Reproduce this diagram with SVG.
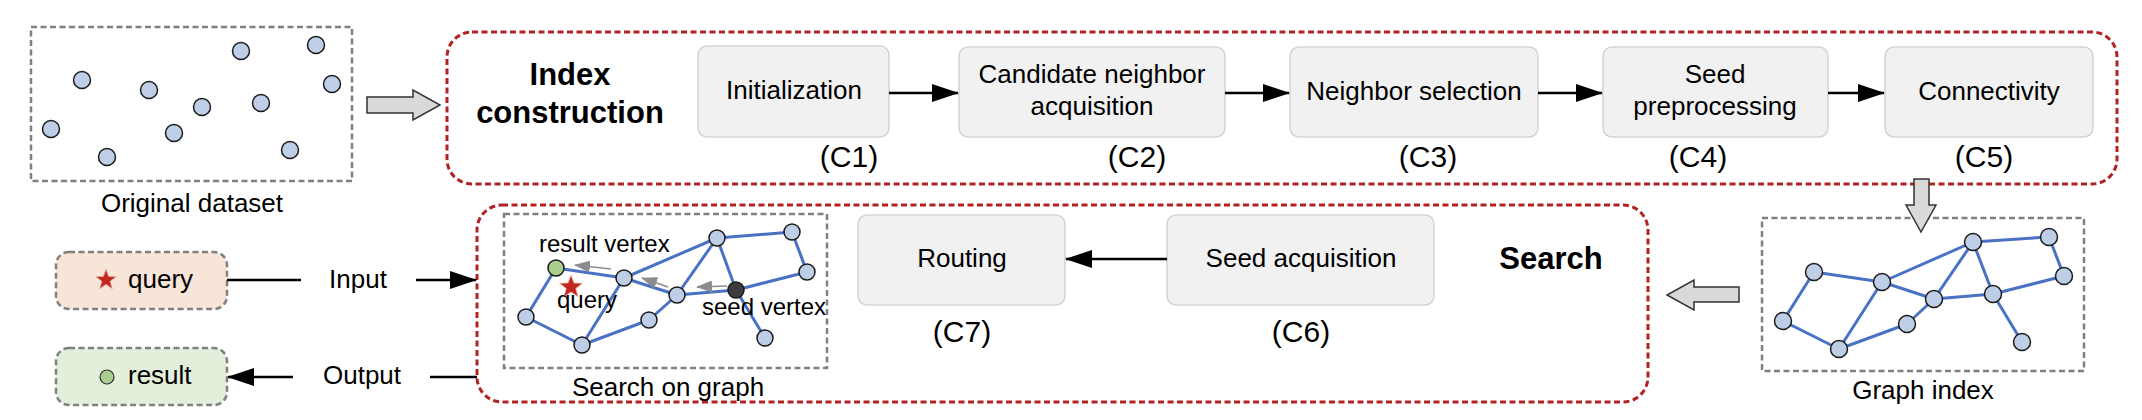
<svg xmlns="http://www.w3.org/2000/svg" xmlns:xlink="http://www.w3.org/1999/xlink" width="2142" height="420" viewBox="0 0 2142 420">
<style>
text{font-family:"Liberation Sans",Arial,sans-serif;fill:#000}
.t{font-size:26px}
.tb{font-size:31px;font-weight:bold}
.lbl{font-size:30px}
.sm{font-size:24px}
.step{fill:#f1f1f1;stroke:#d4d4d4;stroke-width:1.5}
.red{fill:none;stroke:#b22222;stroke-width:3;stroke-dasharray:6,3.5}
.gbox{fill:none;stroke:#808080;stroke-width:2.5;stroke-dasharray:6,3.5}
.nd{fill:#bdcee6;stroke:#1a1a1a;stroke-width:1.5}
.ed{stroke:#4a72c4;stroke-width:3;fill:none}
.blk{fill:#d9d9d9;stroke:#333;stroke-width:1.5}
.arr{stroke:#000;stroke-width:2.5;fill:none}
.garr{stroke:#8c8c8c;stroke-width:1.5;fill:none}
</style>
<defs>
<marker id="ah" markerUnits="userSpaceOnUse" markerWidth="27" markerHeight="18" refX="26" refY="9" orient="auto"><path d="M0,0 L27,9 L0,18 z" fill="#000"/></marker>
<marker id="gh" markerUnits="userSpaceOnUse" markerWidth="16" markerHeight="12" refX="15" refY="6" orient="auto"><path d="M0,0 L16,6 L0,12 z" fill="#8c8c8c"/></marker>
<polygon id="star" points="0,-12 2.94,-4.05 11.41,-3.71 4.76,1.55 7.05,9.71 0,5 -7.05,9.71 -4.76,1.55 -11.41,-3.71 -2.94,-4.05" fill="#c0281e" stroke="#e8b0a8" stroke-width="0.8"/>
</defs>

<g id="original-dataset">
<rect class="gbox" x="31" y="27" width="321" height="154"/>
<circle class="nd" cx="51" cy="129" r="8.5"/>
<circle class="nd" cx="82" cy="80" r="8.5"/>
<circle class="nd" cx="107" cy="157" r="8.5"/>
<circle class="nd" cx="149" cy="90" r="8.5"/>
<circle class="nd" cx="174" cy="133" r="8.5"/>
<circle class="nd" cx="202" cy="107" r="8.5"/>
<circle class="nd" cx="241" cy="51" r="8.5"/>
<circle class="nd" cx="261" cy="103" r="8.5"/>
<circle class="nd" cx="290" cy="150" r="8.5"/>
<circle class="nd" cx="316" cy="45" r="8.5"/>
<circle class="nd" cx="332" cy="84" r="8.5"/>
<text class="t" x="192" y="212" text-anchor="middle">Original dataset</text>
</g>

<g id="index-construction">
<rect class="red" x="447" y="32" width="1670" height="152" rx="25"/>
<text class="tb" x="570" y="85" text-anchor="middle">Index</text>
<text class="tb" x="570" y="123" text-anchor="middle">construction</text>
</g>

<g id="c1">
<rect class="step" x="698" y="46" width="191" height="91" rx="9"/>
<text class="t" x="794" y="99" text-anchor="middle">Initialization</text>
<text class="lbl" x="849" y="167" text-anchor="middle">(C1)</text>
</g>
<g id="c2">
<rect class="step" x="959" y="47" width="266" height="90" rx="9"/>
<text class="t" x="1092" y="83" text-anchor="middle">Candidate neighbor</text>
<text class="t" x="1092" y="115" text-anchor="middle">acquisition</text>
<text class="lbl" x="1137" y="167" text-anchor="middle">(C2)</text>
</g>
<g id="c3">
<rect class="step" x="1290" y="47" width="248" height="90" rx="9"/>
<text class="t" x="1414" y="100" text-anchor="middle">Neighbor selection</text>
<text class="lbl" x="1428" y="167" text-anchor="middle">(C3)</text>
</g>
<g id="c4">
<rect class="step" x="1603" y="47" width="225" height="90" rx="9"/>
<text class="t" x="1715" y="83" text-anchor="middle">Seed</text>
<text class="t" x="1715" y="115" text-anchor="middle">preprocessing</text>
<text class="lbl" x="1698" y="167" text-anchor="middle">(C4)</text>
</g>
<g id="c5">
<rect class="step" x="1885" y="47" width="208" height="90" rx="9"/>
<text class="t" x="1989" y="100" text-anchor="middle">Connectivity</text>
<text class="lbl" x="1984" y="167" text-anchor="middle">(C5)</text>
</g>

<g id="graph-index">
<rect class="gbox" x="1762" y="218" width="322" height="153"/>
<g>
<line class="ed" x1="1814" y1="272" x2="1882" y2="282"/>
<line class="ed" x1="1882" y1="282" x2="1973" y2="242"/>
<line class="ed" x1="1973" y1="242" x2="2049" y2="237"/>
<line class="ed" x1="2049" y1="237" x2="2064" y2="276"/>
<line class="ed" x1="2064" y1="276" x2="1993" y2="294"/>
<line class="ed" x1="1993" y1="294" x2="1973" y2="242"/>
<line class="ed" x1="1993" y1="294" x2="1934" y2="299"/>
<line class="ed" x1="1934" y1="299" x2="1973" y2="242"/>
<line class="ed" x1="1934" y1="299" x2="1882" y2="282"/>
<line class="ed" x1="1934" y1="299" x2="1907" y2="324"/>
<line class="ed" x1="1907" y1="324" x2="1839" y2="349"/>
<line class="ed" x1="1839" y1="349" x2="1882" y2="282"/>
<line class="ed" x1="1839" y1="349" x2="1783" y2="321"/>
<line class="ed" x1="1783" y1="321" x2="1814" y2="272"/>
<line class="ed" x1="1993" y1="294" x2="2022" y2="342"/>
</g>
<circle class="nd" cx="1814" cy="272" r="8.5"/>
<circle class="nd" cx="1882" cy="282" r="8.5"/>
<circle class="nd" cx="1973" cy="242" r="8.5"/>
<circle class="nd" cx="2049" cy="237" r="8.5"/>
<circle class="nd" cx="2064" cy="276" r="8.5"/>
<circle class="nd" cx="1993" cy="294" r="8.5"/>
<circle class="nd" cx="1934" cy="299" r="8.5"/>
<circle class="nd" cx="1907" cy="324" r="8.5"/>
<circle class="nd" cx="1839" cy="349" r="8.5"/>
<circle class="nd" cx="1783" cy="321" r="8.5"/>
<circle class="nd" cx="2022" cy="342" r="8.5"/>
<text class="t" x="1923" y="399" text-anchor="middle">Graph index</text>
</g>

<g id="search">
<rect class="red" x="477" y="205" width="1171" height="197" rx="25"/>
<text class="tb" x="1551" y="269" text-anchor="middle">Search</text>
</g>

<g id="search-on-graph">
<rect class="gbox" x="504" y="214" width="323" height="154"/>
<g>
<line class="ed" x1="556" y1="268" x2="624" y2="278"/>
<line class="ed" x1="624" y1="278" x2="717" y2="238"/>
<line class="ed" x1="717" y1="238" x2="792" y2="232"/>
<line class="ed" x1="792" y1="232" x2="807" y2="272"/>
<line class="ed" x1="807" y1="272" x2="736" y2="290"/>
<line class="ed" x1="736" y1="290" x2="717" y2="238"/>
<line class="ed" x1="736" y1="290" x2="677" y2="295"/>
<line class="ed" x1="677" y1="295" x2="717" y2="238"/>
<line class="ed" x1="677" y1="295" x2="624" y2="278"/>
<line class="ed" x1="677" y1="295" x2="649" y2="320"/>
<line class="ed" x1="649" y1="320" x2="582" y2="345"/>
<line class="ed" x1="582" y1="345" x2="624" y2="278"/>
<line class="ed" x1="582" y1="345" x2="526" y2="317"/>
<line class="ed" x1="526" y1="317" x2="556" y2="268"/>
<line class="ed" x1="736" y1="290" x2="765" y2="338"/>
</g>
<line class="garr" x1="611" y1="269" x2="575" y2="265" marker-end="url(#gh)"/>
<line class="garr" x1="668" y1="287" x2="642" y2="278" marker-end="url(#gh)"/>
<line class="garr" x1="727" y1="286" x2="697" y2="287" marker-end="url(#gh)"/>
<circle cx="556" cy="268" r="8" fill="#a9cf8e" stroke="#1a1a1a" stroke-width="1.5"/>
<circle class="nd" cx="624" cy="278" r="8"/>
<circle class="nd" cx="717" cy="238" r="8"/>
<circle class="nd" cx="792" cy="232" r="8"/>
<circle class="nd" cx="807" cy="272" r="8"/>
<circle cx="736" cy="290" r="8" fill="#3c3c3c" stroke="#1a1a1a" stroke-width="1.5"/>
<circle class="nd" cx="677" cy="295" r="8"/>
<circle class="nd" cx="649" cy="320" r="8"/>
<circle class="nd" cx="582" cy="345" r="8"/>
<circle class="nd" cx="526" cy="317" r="8"/>
<circle class="nd" cx="765" cy="338" r="8"/>
<use xlink:href="#star" href="#star" x="571" y="287"/>
<text class="sm" x="539" y="252">result vertex</text>
<text class="sm" x="557" y="308">query</text>
<text class="sm" x="702" y="315">seed vertex</text>
<text class="t" x="668" y="396" text-anchor="middle">Search on graph</text>
</g>

<g id="c7">
<rect class="step" x="858" y="215" width="207" height="90" rx="9"/>
<text class="t" x="962" y="267" text-anchor="middle">Routing</text>
<text class="lbl" x="962" y="342" text-anchor="middle">(C7)</text>
</g>
<g id="c6">
<rect class="step" x="1167" y="215" width="267" height="90" rx="9"/>
<text class="t" x="1301" y="267" text-anchor="middle">Seed acquisition</text>
<text class="lbl" x="1301" y="342" text-anchor="middle">(C6)</text>
</g>

<g id="query">
<rect x="56" y="252" width="171" height="57" rx="13" class="gbox" style="fill:#f9e4d8"/>
<polygon points="106,269 108.6,276.4 116.3,276.6 110.2,281.3 112.3,288.7 106,284.4 99.7,288.7 101.8,281.3 95.7,276.6 103.4,276.4" fill="#c0281e" stroke="#e8b0a8" stroke-width="0.8"/>
<text class="t" x="128" y="288">query</text>
</g>
<g id="result">
<rect x="56" y="348" width="171" height="57" rx="13" class="gbox" style="fill:#e3eedb"/>
<circle cx="107" cy="377" r="7" fill="#a9cf8e" stroke="#333" stroke-width="1.2"/>
<text class="t" x="128" y="384">result</text>
</g>

<g id="connectors">
<polygon class="blk" points="367,97 413,97 413,90 440,105 413,120 413,113 367,113"/>
<polygon class="blk" points="1914,179 1929,179 1929,205 1936,205 1921,232 1906,205 1914,205"/>
<polygon class="blk" points="1739,287 1694,287 1694,280 1667,295 1694,310 1694,302 1739,302"/>
<line class="arr" x1="889" y1="93" x2="958" y2="93" marker-end="url(#ah)"/>
<line class="arr" x1="1225" y1="93" x2="1289" y2="93" marker-end="url(#ah)"/>
<line class="arr" x1="1538" y1="93" x2="1602" y2="93" marker-end="url(#ah)"/>
<line class="arr" x1="1828" y1="93" x2="1884" y2="93" marker-end="url(#ah)"/>
<line class="arr" x1="1167" y1="259" x2="1066" y2="259" marker-end="url(#ah)"/>
<line class="arr" x1="227" y1="280" x2="301" y2="280"/>
<text class="t" x="358" y="288" text-anchor="middle">Input</text>
<line class="arr" x1="416" y1="280" x2="476" y2="280" marker-end="url(#ah)"/>
<line class="arr" x1="477" y1="377" x2="430" y2="377"/>
<text class="t" x="362" y="384" text-anchor="middle">Output</text>
<line class="arr" x1="293" y1="377" x2="228" y2="377" marker-end="url(#ah)"/>
</g>
</svg>
